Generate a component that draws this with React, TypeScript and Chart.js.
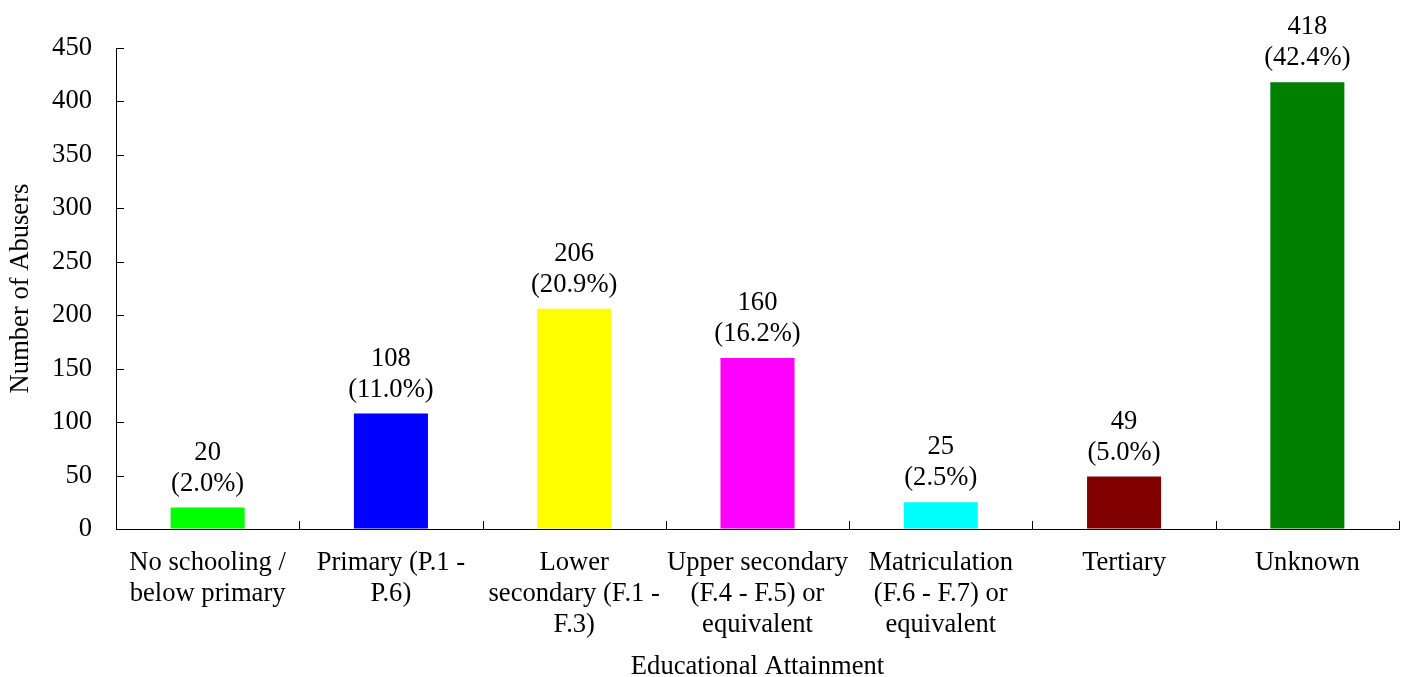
import React, { useEffect, useRef } from "react";
import { Chart, registerables } from "chart.js";

Chart.register(...registerables);

const categories: string[][] = [
  ["No schooling /", "below primary"],
  ["Primary (P.1 -", "P.6)"],
  ["Lower", "secondary (F.1 -", "F.3)"],
  ["Upper secondary", "(F.4 - F.5) or", "equivalent"],
  ["Matriculation", "(F.6 - F.7) or", "equivalent"],
  ["Tertiary"],
  ["Unknown"],
];
const values: number[] = [20, 108, 206, 160, 25, 49, 418];
const percents: string[] = ["2.0%", "11.0%", "20.9%", "16.2%", "2.5%", "5.0%", "42.4%"];
const barColors: string[] = ["#00FF00", "#0000FF", "#FFFF00", "#FF00FF", "#00FFFF", "#800000", "#008000"];
const yTitle = "Number of Abusers";
const xTitle = "Educational Attainment";

const FONT = "'Liberation Serif', 'Times New Roman', serif";
const FS = 26.6;

const tickPlugin = {
  id: "innerTicks",
  afterDraw(chart: any) {
    const { ctx, chartArea, scales } = chart;
    const x = scales.x;
    const y = scales.y;
    ctx.save();
    ctx.strokeStyle = "#000";
    ctx.lineWidth = 1;
    ctx.beginPath();
    y.ticks.forEach((_t: any, i: number) => {
      const py = Math.round(y.getPixelForTick(i)) + 0.5;
      ctx.moveTo(chartArea.left, py);
      ctx.lineTo(chartArea.left + 8, py);
    });
    for (let i = 0; i <= categories.length; i++) {
      const px = Math.round(x.getPixelForValue(i - 0.5)) + 0.5;
      ctx.moveTo(px, chartArea.bottom);
      ctx.lineTo(px, chartArea.bottom - 8);
    }
    ctx.stroke();
    ctx.restore();
  },
};

const labelPlugin = {
  id: "barLabels",
  afterDatasetsDraw(chart: any) {
    const { ctx } = chart;
    const meta = chart.getDatasetMeta(0);
    ctx.save();
    ctx.fillStyle = "#000";
    ctx.font = `${FS}px ${FONT}`;
    ctx.textAlign = "center";
    ctx.textBaseline = "middle";
    meta.data.forEach((bar: any, i: number) => {
      ctx.fillText(String(values[i]), bar.x, bar.y - 55);
      ctx.fillText(`(${percents[i]})`, bar.x, bar.y - 24);
    });
    ctx.restore();
  },
};

export default function App() {
  const ref = useRef<HTMLCanvasElement | null>(null);
  useEffect(() => {
    if (!ref.current) return;
    const chart = new Chart(ref.current, {
      type: "bar",
      data: {
        labels: categories,
        datasets: [
          {
            data: values,
            backgroundColor: barColors,
            borderWidth: 0,
            barPercentage: 0.404,
            categoryPercentage: 1,
          },
        ],
      },
      options: {
        animation: false,
        responsive: true,
        maintainAspectRatio: false,
        layout: { padding: { top: 48, right: 9, left: 8, bottom: 0 } },
        plugins: {
          legend: { display: false },
          tooltip: { enabled: false },
        },
        scales: {
          x: {
            afterFit: (s: any) => {
              s.height = 148;
            },
            grid: { display: true, drawOnChartArea: false, drawTicks: false },
            border: { display: true, color: "#000", width: 1 },
            ticks: {
              color: "#000",
              font: { family: FONT, size: FS, lineHeight: 1.165 },
              padding: 19,
              maxRotation: 0,
              autoSkip: false,
            },
            title: {
              display: true,
              text: xTitle,
              color: "#000",
              font: { family: FONT, size: FS, lineHeight: 0.77 },
              padding: { top: 0, bottom: 0 },
            },
          },
          y: {
            min: 0,
            max: 450,
            afterFit: (s: any) => {
              s.width = 108;
            },
            grid: { display: true, drawOnChartArea: false, drawTicks: false },
            border: { display: true, color: "#000", width: 1 },
            ticks: {
              stepSize: 50,
              color: "#000",
              font: { family: FONT, size: FS },
              padding: 24,
            },
            title: {
              display: true,
              text: yTitle,
              color: "#000",
              font: { family: FONT, size: FS, lineHeight: 1 },
              padding: { top: 0, bottom: 0 },
            },
          },
        },
      },
      plugins: [tickPlugin, labelPlugin],
    });
    return () => chart.destroy();
  }, []);
  return (
    <div style={{ position: "absolute", left: 0, top: 0, width: 1408, height: 677, background: "#fff" }}>
      <canvas ref={ref} />
    </div>
  );
}
